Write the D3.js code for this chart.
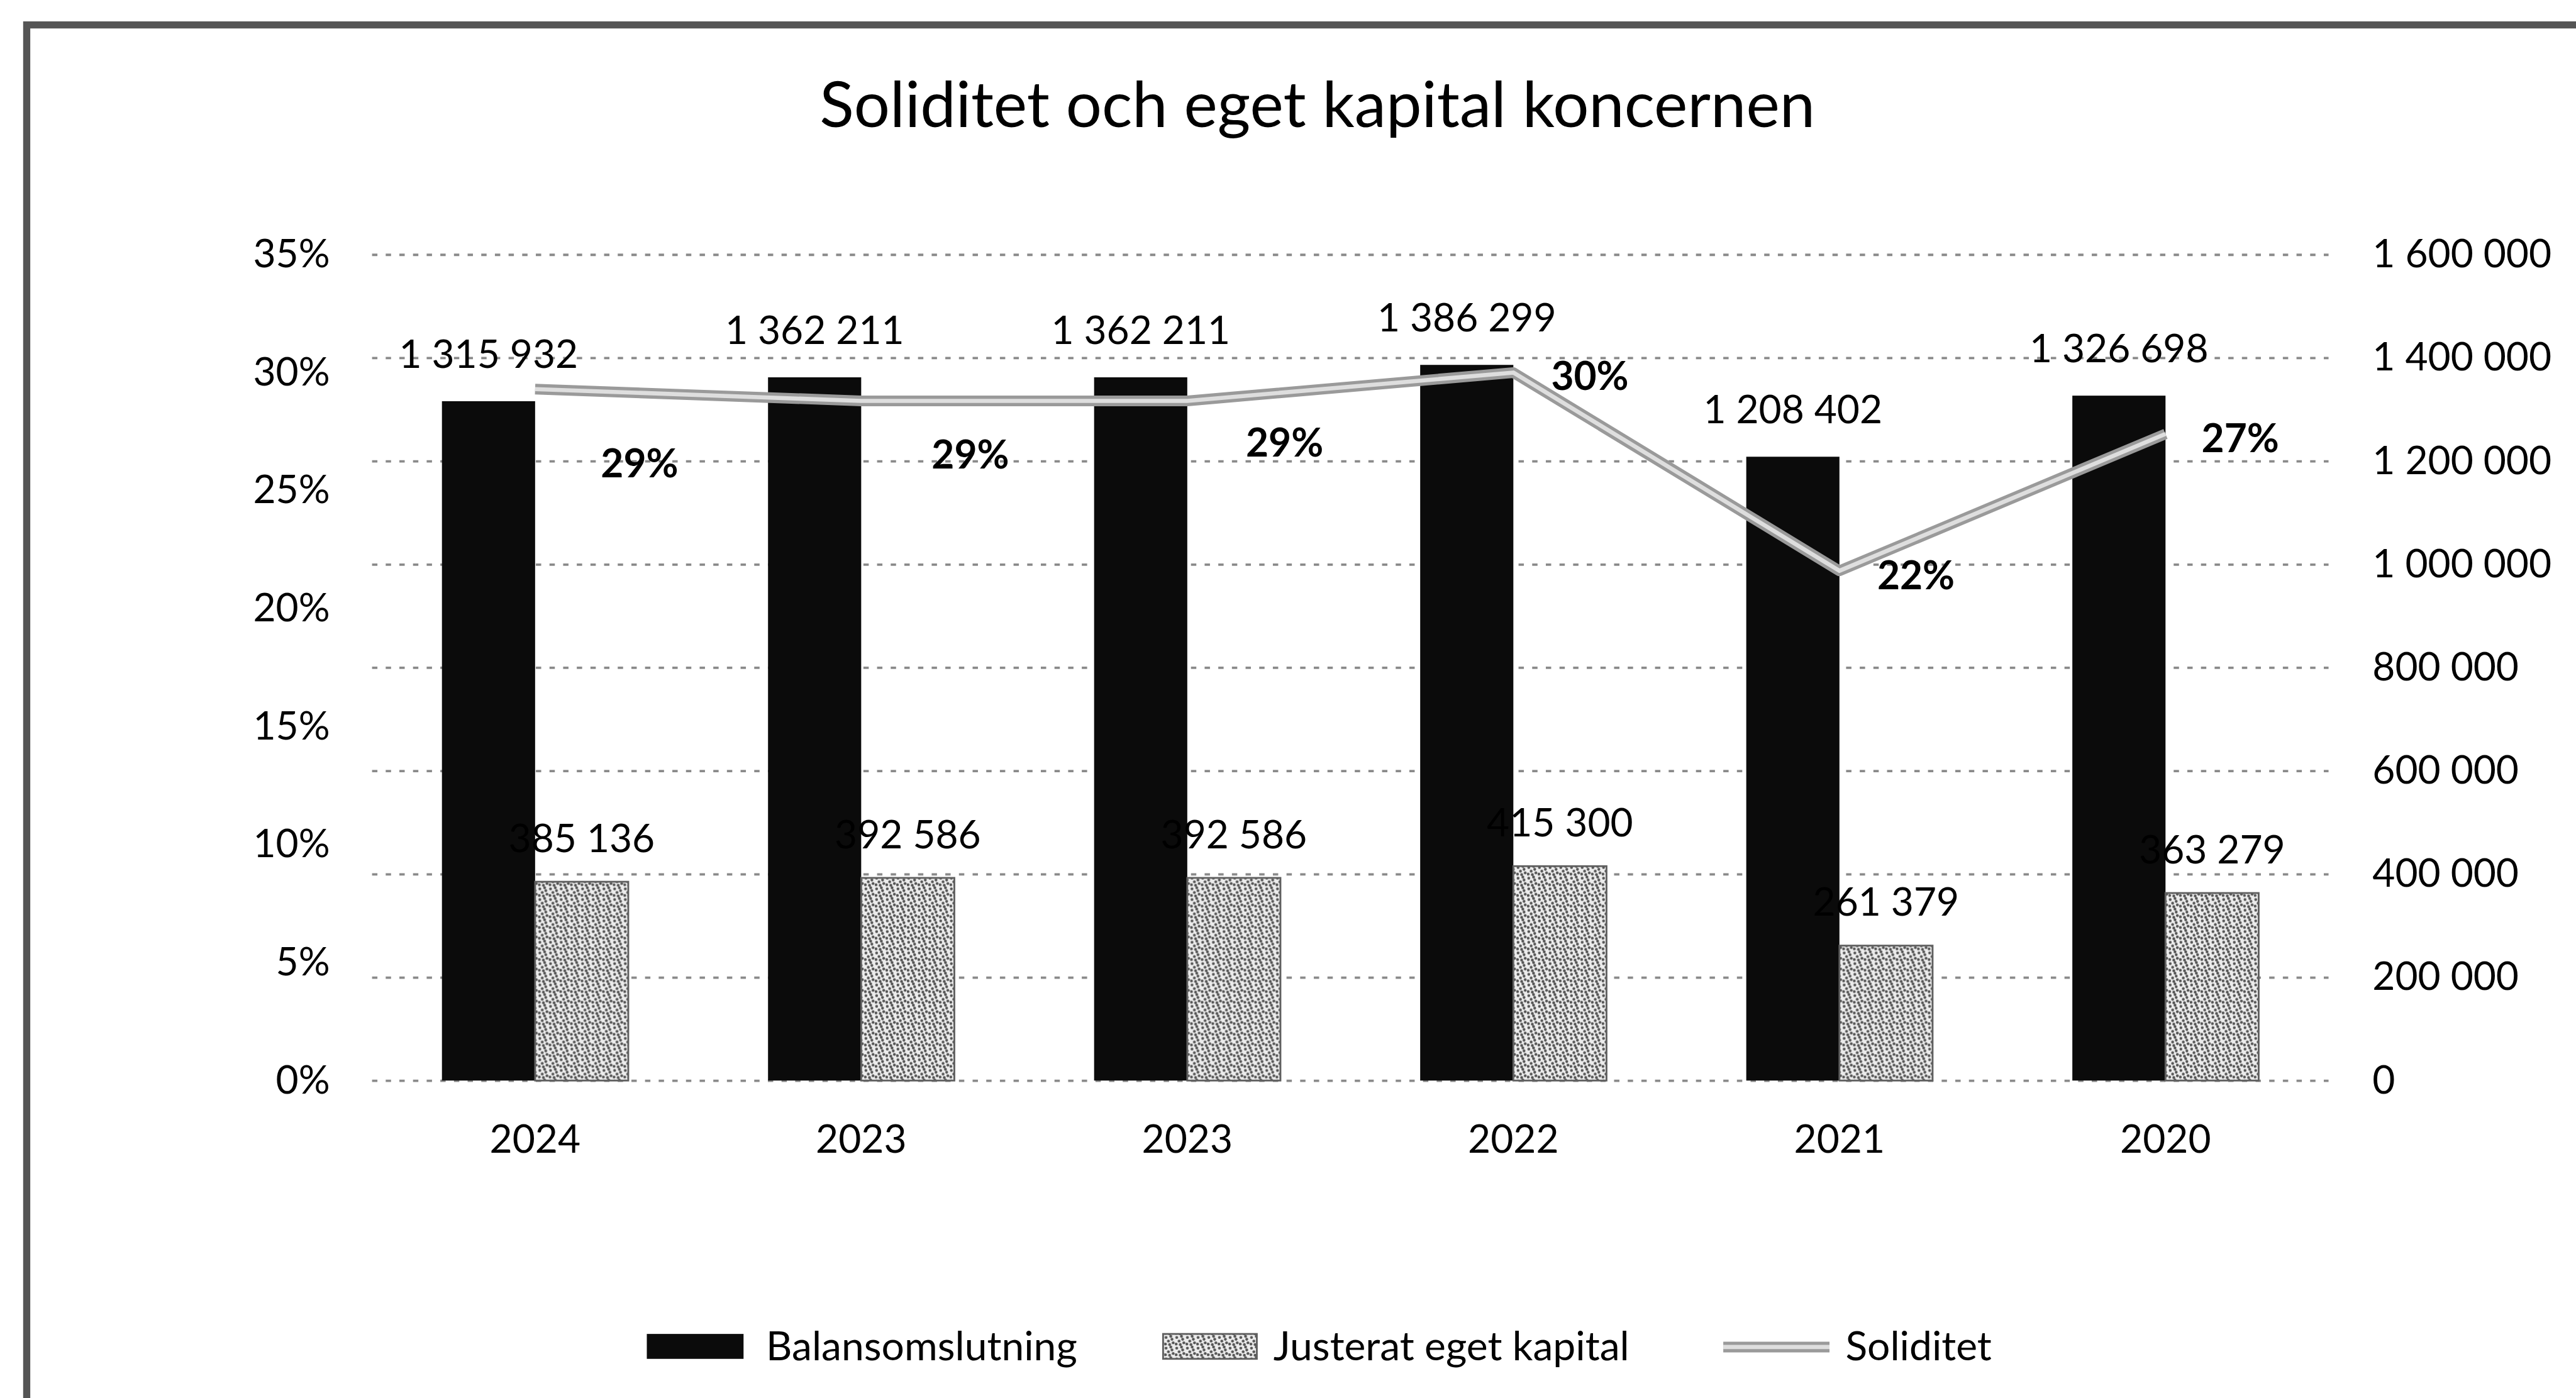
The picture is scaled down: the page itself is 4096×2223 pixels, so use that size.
<!DOCTYPE html>
<html lang="sv">
<head>
<meta charset="UTF-8" />
<title>Soliditet och eget kapital koncernen</title>
<style>
  html, body { margin: 0; padding: 0; background: #fff; }
  svg { display: block; }
  text { font-family: Lato, "Open Sans", sans-serif; fill: #000; }
</style>
</head>
<body>
<svg id="chart" width="4096" height="2223"></svg>
<script src="https://cdn.jsdelivr.net/npm/d3@7"></script>
<script>
  // values
  const years = ["2024", "2023", "2023", "2022", "2021", "2020"];
  const balansomslutning = [1315932, 1362211, 1362211, 1386299, 1208402, 1326698];
  const justeratEgetKapital = [385136, 392586, 392586, 415300, 261379, 363279];
  const soliditet = [0.293, 0.288, 0.288, 0.300, 0.216, 0.274];
  const pctTicks = [0, 0.05, 0.10, 0.15, 0.20, 0.25, 0.30, 0.35];
  const amountTicks = [0, 200000, 400000, 600000, 800000, 1000000, 1200000, 1400000, 1600000];
  const seriesNames = ["Balansomslutning", "Justerat eget kapital", "Soliditet"];

  // where the percent labels sit relative to their point (first three were moved by hand)
  const pctLabelShift = [[176, 126], [184, 91], [164, 71], [129, 6], [129, 8], [126, 8]];

  // everything is laid out in the original 4341 x 2356 space, then scaled down
  const k = 4096 / 4341;
  const plot = { left: 627, right: 3924, top: 429, bottom: 1821 };
  const gap = 1.5; // excel gap width 150%

  const svg = d3.select("#chart");
  svg.append("rect").attr("width", 4096).attr("height", 2223).attr("fill", "#fff");
  const root = svg.append("g").attr("transform", `scale(${k})`);

  // speckled fill used for "Justerat eget kapital"
  const dots = [[3, 4], [11, 2], [7, 10], [15, 13], [2, 15], [13, 7], [9, 16]];
  const pat = root.append("defs").append("pattern")
    .attr("id", "speckle").attr("patternUnits", "userSpaceOnUse")
    .attr("width", 18).attr("height", 18);
  pat.append("rect").attr("width", 18).attr("height", 18).attr("fill", "#ececec");
  pat.selectAll("circle").data(dots).join("circle")
    .attr("cx", d => d[0]).attr("cy", d => d[1]).attr("r", 2.4).attr("fill", "#555");

  // frame of the chart object (right and bottom edges are cut off in the source)
  root.append("path").attr("d", "M45,2400V42H4400")
    .attr("fill", "none").attr("stroke", "#555").attr("stroke-width", 12);

  const sv = d3.formatLocale({ decimal: ",", thousands: " ", grouping: [3], currency: ["", " kr"] });
  const fmtAmount = sv.format(",d");

  const x = d3.scaleBand().domain(d3.range(years.length))
    .range([plot.left, plot.right])
    .paddingInner(gap / (2 + gap)).paddingOuter(gap / 2 / (2 + gap));
  const xs = d3.scaleBand().domain([0, 1]).range([0, x.bandwidth()]);
  const yL = d3.scaleLinear().domain([0, 0.35]).range([plot.bottom, plot.top]);
  const yR = d3.scaleLinear().domain([0, 1600000]).range([plot.bottom, plot.top]);

  // gridlines follow the secondary axis
  const grid = root.append("g").attr("transform", `translate(${plot.left},0)`)
    .call(d3.axisRight(yR).tickValues(amountTicks).tickSize(plot.right - plot.left).tickFormat(""));
  grid.select(".domain").remove();
  grid.selectAll("line").attr("stroke", "#8a8a8a").attr("stroke-width", 4).attr("stroke-dasharray", "9 14");

  function tidy(g, size) {
    g.select(".domain").remove();
    g.attr("font-size", size).attr("font-family", "Lato, 'Open Sans', sans-serif");
    g.selectAll("text").attr("fill", "#000");
  }

  root.append("g").attr("transform", `translate(${plot.left},0)`)
    .call(d3.axisLeft(yL).tickValues(pctTicks).tickFormat(d3.format(".0%")).tickSize(0).tickPadding(71))
    .call(tidy, 66);

  root.append("g").attr("transform", `translate(${plot.right},0)`)
    .call(d3.axisRight(yR).tickValues(amountTicks).tickFormat(fmtAmount).tickSize(0).tickPadding(74))
    .call(tidy, 66);

  root.append("g").attr("transform", `translate(0,${plot.bottom})`)
    .call(d3.axisBottom(x).tickFormat(i => years[i]).tickSize(0).tickPadding(75))
    .call(tidy, 66);

  // bars
  const groups = root.append("g").selectAll("g").data(years).join("g")
    .attr("transform", (d, i) => `translate(${x(i)},0)`);

  groups.append("rect")
    .attr("x", xs(0)).attr("width", xs.bandwidth())
    .attr("y", (d, i) => yR(balansomslutning[i]))
    .attr("height", (d, i) => yR(0) - yR(balansomslutning[i]))
    .attr("fill", "#0b0b0b");

  groups.append("rect")
    .attr("x", xs(1)).attr("width", xs.bandwidth())
    .attr("y", (d, i) => yR(justeratEgetKapital[i]))
    .attr("height", (d, i) => yR(0) - yR(justeratEgetKapital[i]))
    .attr("fill", "url(#speckle)").attr("stroke", "#5f5f5f").attr("stroke-width", 3);

  // soliditet line
  const line = d3.line().x((d, i) => x(i) + x.bandwidth() / 2).y(d => yL(d));
  root.append("path").datum(soliditet).attr("d", line)
    .attr("fill", "none").attr("stroke", "#9a9a9a").attr("stroke-width", 18).attr("stroke-linejoin", "round");
  root.append("path").datum(soliditet).attr("d", line)
    .attr("fill", "none").attr("stroke", "#dedede").attr("stroke-width", 7).attr("stroke-linejoin", "round");

  // bar labels
  groups.append("text")
    .attr("x", xs(0) + xs.bandwidth() / 2)
    .attr("y", (d, i) => yR(balansomslutning[i]) - 56)
    .attr("text-anchor", "middle").attr("font-size", 66)
    .text((d, i) => fmtAmount(balansomslutning[i]));

  groups.append("text")
    .attr("x", xs(1) + xs.bandwidth() / 2)
    .attr("y", (d, i) => yR(justeratEgetKapital[i]) - 50)
    .attr("text-anchor", "middle").attr("font-size", 66)
    .text((d, i) => fmtAmount(justeratEgetKapital[i]));

  root.append("g").selectAll("text").data(soliditet).join("text")
    .attr("x", (d, i) => x(i) + x.bandwidth() / 2 + pctLabelShift[i][0])
    .attr("y", (d, i) => yL(d) + pctLabelShift[i][1])
    .attr("dy", "0.35em").attr("text-anchor", "middle")
    .attr("font-size", 66).attr("font-weight", "bold")
    .text(d => d3.format(".0%")(d));

  // title
  root.append("text").attr("x", 2220).attr("y", 214)
    .attr("text-anchor", "middle").attr("font-size", 107)
    .text("Soliditet och eget kapital koncernen");

  // legend
  const legendX = [[1090, 1291], [1960, 2146], [2904, 3110]];
  const legend = root.append("g");
  legend.append("rect").attr("x", legendX[0][0]).attr("y", 2248).attr("width", 163).attr("height", 42).attr("fill", "#0b0b0b");
  legend.append("rect").attr("x", legendX[1][0]).attr("y", 2248).attr("width", 158).attr("height", 42)
    .attr("fill", "url(#speckle)").attr("stroke", "#5f5f5f").attr("stroke-width", 3);
  legend.append("line").attr("x1", legendX[2][0]).attr("x2", legendX[2][0] + 179).attr("y1", 2270).attr("y2", 2270)
    .attr("stroke", "#9a9a9a").attr("stroke-width", 18);
  legend.append("line").attr("x1", legendX[2][0]).attr("x2", legendX[2][0] + 179).attr("y1", 2270).attr("y2", 2270)
    .attr("stroke", "#dedede").attr("stroke-width", 7);
  legend.selectAll("text").data(seriesNames).join("text")
    .attr("x", (d, i) => legendX[i][1]).attr("y", 2292)
    .attr("font-size", 68).text(d => d);
</script>
</body>
</html>
